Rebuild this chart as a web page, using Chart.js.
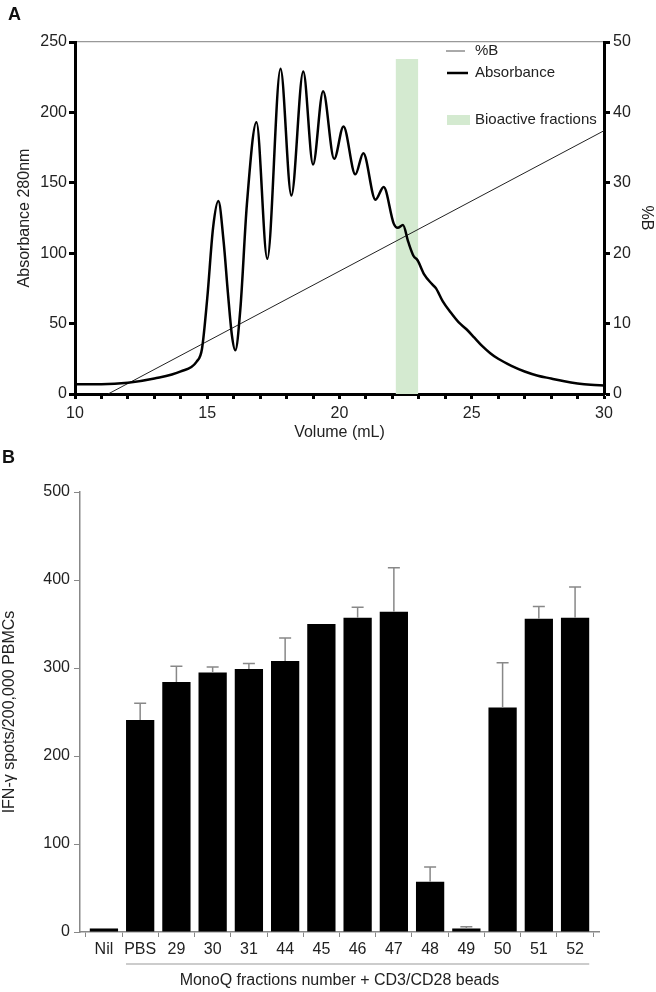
<!DOCTYPE html>
<html lang="en">
<head>
<meta charset="UTF-8">
<title>MonoQ fractionation and IFN-γ ELISpot</title>
<script src="https://cdn.jsdelivr.net/npm/chart.js"></script>
<style>
    body {
        margin: 0;
        background: #fff;
        font-family: "Liberation Sans", Arial, sans-serif;
    }
    #wrap {
        position: relative;
        width: 656px;
        height: 992px;
    }
    canvas {
        position: absolute;
        left: 0;
    }
    .panel {
        position: absolute;
        font-weight: bold;
        font-size: 18px;
        line-height: 18px;
        color: #111;
    }
</style>
</head>
<body>
<div id="wrap">
    <canvas id="chromChart" width="656" height="442" style="top:0"></canvas>
    <canvas id="elispotChart" width="656" height="552" style="top:440px"></canvas>
    <div class="panel" style="left:8px;top:5px">A</div>
    <div class="panel" style="left:2px;top:448px">B</div>
</div>

<script>
    // --- panel A: chromatogram ---
    const volume = [10.0, 11.0, 12.0, 13.0, 14.0, 14.6, 14.8, 15.0, 15.22, 15.42, 15.62, 15.78, 15.93, 16.06,
        16.25, 16.5, 16.86, 17.27, 17.77, 18.18, 18.63, 19.0, 19.38, 19.8, 20.15, 20.6, 20.9, 21.36, 21.67,
        22.05, 22.2, 22.4, 22.6, 22.8, 22.95, 23.2, 23.5, 23.65, 23.9, 24.2, 24.5, 24.8, 25.1, 25.4, 25.7,
        26.0, 26.5, 27.0, 27.5, 28.0, 28.5, 29.0, 29.5, 30.0];
    const absorbance = [7, 7, 8, 11, 16, 23, 32, 68, 118, 137, 108, 72, 42, 31,
        60, 135, 193, 96, 231, 141, 229, 163, 215, 167, 190, 156, 171, 138, 147,
        121, 118, 120, 108, 98, 95, 85, 78, 75, 66, 58, 51, 46, 40, 34, 29,
        25, 20, 16, 13, 11, 9, 7.5, 6.5, 6];
    const gradientVolume = [11.25, 30];
    const gradientB = [0, 37.4];
    const bioactiveVolume = [22.12, 22.98];
    const bioactiveTop = 238;

    // --- panel B: ELISpot ---
    const fractions = ['Nil', 'PBS', '29', '30', '31', '44', '45', '46', '47', '48', '49', '50', '51', '52'];
    const spots = [4, 241, 284, 295, 299, 308, 350, 357, 364, 57, 4, 255, 356, 357];
    const spotsErr = [0, 19, 18, 6, 6, 26, 0, 12, 50, 17, 2, 51, 14, 35];

    const textColor = '#222';
    Chart.defaults.font.family = '"Liberation Sans", Arial, sans-serif';
    Chart.defaults.font.size = 16;
    Chart.defaults.color = textColor;

    const toPoints = (xs, ys) => xs.map((x, i) => ({x: x, y: ys[i]}));

    // legend for panel A, drawn in the upper right corner of the plot
    const chromLegend = {
        id: 'chromLegend',
        afterDraw(chart) {
            const ctx = chart.ctx;
            ctx.save();
            ctx.font = '15px "Liberation Sans", Arial, sans-serif';
            ctx.fillStyle = textColor;
            ctx.textBaseline = 'middle';

            ctx.strokeStyle = '#555';
            ctx.lineWidth = 1;
            ctx.beginPath(); ctx.moveTo(446, 51); ctx.lineTo(465, 51); ctx.stroke();
            ctx.fillText('%B', 475, 51);

            ctx.strokeStyle = '#000';
            ctx.lineWidth = 2.5;
            ctx.beginPath(); ctx.moveTo(447, 73); ctx.lineTo(468, 73); ctx.stroke();
            ctx.fillText('Absorbance', 475, 73);

            ctx.fillStyle = 'rgb(212,234,208)';
            ctx.fillRect(447, 115, 23, 10);
            ctx.fillStyle = textColor;
            ctx.fillText('Bioactive fractions', 475, 120);
            ctx.restore();
        }
    };

    new Chart(document.getElementById('chromChart'), {
        type: 'line',
        data: {
            datasets: [{
                label: 'Absorbance',
                data: toPoints(volume, absorbance),
                yAxisID: 'y',
                borderColor: '#000',
                borderWidth: 2.5,
                pointRadius: 0,
                cubicInterpolationMode: 'monotone',
                fill: false
            }, {
                label: '%B',
                data: toPoints(gradientVolume, gradientB),
                yAxisID: 'y2',
                borderColor: '#222',
                borderWidth: 1,
                pointRadius: 0,
                fill: false
            }, {
                label: 'Bioactive fractions',
                data: toPoints(bioactiveVolume, [bioactiveTop, bioactiveTop]),
                yAxisID: 'y',
                borderWidth: 0,
                pointRadius: 0,
                backgroundColor: 'rgb(212,234,208)',
                fill: 'origin'
            }]
        },
        options: {
            responsive: false,
            animation: false,
            devicePixelRatio: 1,
            layout: {padding: {top: 42}},
            plugins: {legend: {display: false}, tooltip: {enabled: false}},
            scales: {
                x: {
                    type: 'linear',
                    position: 'bottom',
                    min: 10,
                    max: 30,
                    ticks: {
                        stepSize: 1,
                        autoSkip: false,
                        maxRotation: 0,
                        padding: 5,
                        callback: v => (v % 5 === 0 ? v : '')
                    },
                    grid: {drawOnChartArea: false, tickLength: 5, tickWidth: 3, tickColor: '#000'},
                    border: {color: '#000', width: 3},
                    title: {display: true, text: 'Volume (mL)', padding: {top: 0, bottom: 0}},
                    afterFit: s => { s.height = 48; }
                },
                xTop: {
                    type: 'linear',
                    position: 'top',
                    min: 10,
                    max: 30,
                    ticks: {display: false},
                    grid: {display: false},
                    border: {color: '#999', width: 1.2},
                    afterFit: s => { s.height = 0; }
                },
                y: {
                    position: 'left',
                    min: 0,
                    max: 250,
                    ticks: {stepSize: 50, padding: 2},
                    grid: {drawOnChartArea: false, tickLength: 6, tickWidth: 3, tickColor: '#000'},
                    border: {color: '#000', width: 3},
                    title: {display: true, text: 'Absorbance 280nm', padding: {top: 15, bottom: 0}},
                    afterFit: s => { s.width = 75; }
                },
                y2: {
                    position: 'right',
                    min: 0,
                    max: 50,
                    ticks: {stepSize: 10, padding: 3},
                    grid: {drawOnChartArea: false, tickLength: 6, tickWidth: 3, tickColor: '#000'},
                    border: {color: '#000', width: 3},
                    title: {display: true, text: '%B', padding: {top: 0, bottom: 0}},
                    afterFit: s => { s.width = 52; }
                }
            }
        },
        plugins: [chromLegend]
    });

    // upper error bars (mean + SD) for panel B
    const errorBars = {
        id: 'errorBars',
        afterDatasetsDraw(chart) {
            const ctx = chart.ctx;
            const meta = chart.getDatasetMeta(0);
            const yScale = chart.scales.y;
            ctx.save();
            ctx.strokeStyle = '#888';
            ctx.lineWidth = 1.5;
            meta.data.forEach((bar, i) => {
                if (!spotsErr[i]) return;
                const top = yScale.getPixelForValue(spots[i] + spotsErr[i]);
                ctx.beginPath();
                ctx.moveTo(bar.x, bar.y);
                ctx.lineTo(bar.x, top);
                ctx.moveTo(bar.x - 6, top);
                ctx.lineTo(bar.x + 6, top);
                ctx.stroke();
            });
            ctx.restore();
        }
    };

    // bracket under the CD3/CD28 stimulated groups
    const groupBracket = {
        id: 'groupBracket',
        afterDraw(chart) {
            const ctx = chart.ctx;
            const xScale = chart.scales.x;
            const meta = chart.getDatasetMeta(0);
            const half = meta.data[1].width / 2;
            const y = chart.chartArea.bottom + 32;
            ctx.save();
            ctx.strokeStyle = '#999';
            ctx.lineWidth = 1.2;
            ctx.beginPath();
            ctx.moveTo(xScale.getPixelForValue(1) - half, y);
            ctx.lineTo(xScale.getPixelForValue(fractions.length - 1) + half, y);
            ctx.stroke();
            ctx.restore();
        }
    };

    new Chart(document.getElementById('elispotChart'), {
        type: 'bar',
        data: {
            datasets: [{
                label: 'IFN-γ spots',
                data: spots.map((v, i) => ({x: i, y: v})),
                backgroundColor: '#000',
                borderWidth: 0,
                barPercentage: 0.78,
                categoryPercentage: 1
            }]
        },
        options: {
            responsive: false,
            animation: false,
            devicePixelRatio: 1,
            layout: {padding: {top: 52, right: 57}},
            plugins: {legend: {display: false}, tooltip: {enabled: false}},
            scales: {
                x: {
                    type: 'linear',
                    offset: false,
                    min: -0.66,
                    max: 13.66,
                    afterBuildTicks: s => { s.ticks = fractions.map((_, i) => ({value: i})); },
                    ticks: {
                        autoSkip: false,
                        maxRotation: 0,
                        padding: 3,
                        callback: v => fractions[v]
                    },
                    grid: {drawOnChartArea: false, tickLength: 5, tickWidth: 1, tickColor: '#888'},
                    border: {color: '#888', width: 1.5},
                    title: {display: true, text: 'MonoQ fractions number + CD3/CD28 beads', padding: {top: 0, bottom: 2}},
                    afterFit: s => { s.height = 60; }
                },
                y: {
                    min: 0,
                    max: 500,
                    ticks: {stepSize: 100, padding: 4},
                    grid: {drawOnChartArea: false, tickLength: 6, tickWidth: 1, tickColor: '#888'},
                    border: {color: '#888', width: 1.5},
                    title: {display: true, text: 'IFN-γ spots/200,000 PBMCs', padding: {top: 0, bottom: 0}},
                    afterFit: s => { s.width = 80; }
                }
            }
        },
        plugins: [errorBars, groupBracket]
    });
</script>
</body>
</html>
